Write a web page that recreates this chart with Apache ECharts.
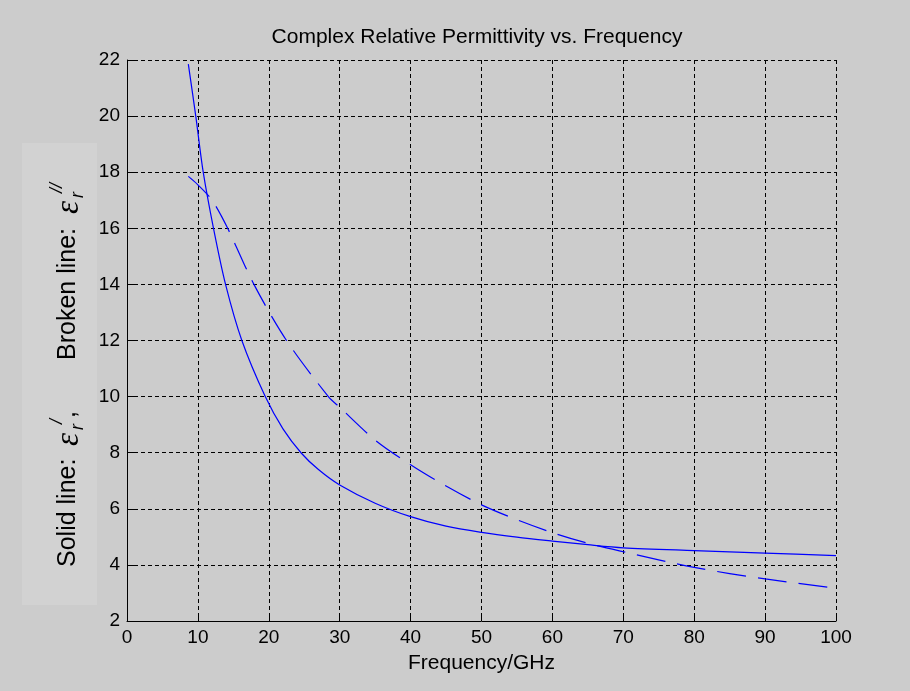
<!DOCTYPE html>
<html>
<head>
<meta charset="utf-8">
<script src="https://cdn.jsdelivr.net/npm/echarts/dist/echarts.min.js"></script>
<style>html,body{margin:0;padding:0;background:#cccccc}#c{width:910px;height:691px}</style>
</head>
<body>
<div id="c"></div>
<script>
// Frequency (GHz) and relative permittivity
const solidFreq = [8.65, 9.7, 10.75, 12.2, 13.9, 16.2, 19.5, 22, 24.6, 27, 30, 35, 40, 45, 50, 55, 60, 65, 70, 80, 90, 100];
const solidEps  = [21.85, 20, 18, 16, 14, 12, 10, 8.85, 7.98, 7.4, 6.85, 6.2, 5.72, 5.38, 5.16, 4.99, 4.85, 4.72, 4.61, 4.51, 4.42, 4.33];
const brokenFreq = [8.65, 10, 12, 14.2, 17.9, 22.5, 28.4, 30, 35, 40, 45, 50, 55, 60, 65, 70, 80, 90, 100];
const brokenEps  = [17.85, 17.55, 17.0, 16.0, 14, 12, 10, 9.62, 8.45, 7.57, 6.81, 6.14, 5.61, 5.15, 4.77, 4.47, 3.91, 3.5, 3.17];
const xTicks = [0, 10, 20, 30, 40, 50, 60, 70, 80, 90, 100];
const yTicks = [2, 4, 6, 8, 10, 12, 14, 16, 18, 20, 22];

const solidData = solidFreq.map((f, i) => [f, solidEps[i]]);
const brokenData = brokenFreq.map((f, i) => [f, brokenEps[i]]);

const FONT = 'Liberation Sans, Arial, sans-serif';
const chart = echarts.init(document.getElementById('c'), null, {renderer: 'canvas'});

const lab = 25, sub = 18;
function t(x, y, text, opts) {
  return {
    type: 'text', x: x, y: y,
    style: Object.assign({text: text, fill: '#000', font: lab + 'px ' + FONT, verticalAlign: 'middle', align: 'left'}, opts || {})
  };
}
const epsFont = 'italic 33px Liberation Serif, serif';
const subFont = 'italic ' + sub + 'px Liberation Sans, sans-serif';

const option = {
  backgroundColor: '#cccccc',
  animation: false,
  grid: {left: 127, top: 60, width: 709, height: 561, containLabel: false},
  xAxis: {
    type: 'value', min: 0, max: 100, interval: 10,
    name: 'Frequency/GHz', nameLocation: 'middle', nameGap: 32,
    nameTextStyle: {color: '#000', fontSize: 21, fontFamily: FONT},
    axisLine: {show: true, onZero: false, lineStyle: {color: '#000', width: 1}},
    axisTick: {show: true, inside: true, length: 7, lineStyle: {color: '#000'}},
    axisLabel: {color: '#000', fontSize: 19, fontFamily: FONT, margin: 7,
      formatter: v => xTicks.includes(v) ? String(v) : ''},
    splitLine: {show: true, lineStyle: {color: '#000', width: 1, type: [4, 3]}}
  },
  yAxis: {
    type: 'value', min: 2, max: 22, interval: 2,
    axisLine: {show: true, onZero: false, lineStyle: {color: '#000', width: 1}},
    axisTick: {show: true, inside: true, length: 7, lineStyle: {color: '#000'}},
    axisLabel: {color: '#000', fontSize: 19, fontFamily: FONT, margin: 7,
      formatter: v => yTicks.includes(v) ? String(v) : ''},
    splitLine: {show: true, lineStyle: {color: '#000', width: 1, type: [4, 3]}}
  },
  series: [
    {type: 'line', data: solidData, smooth: 0.3, showSymbol: false,
      lineStyle: {color: '#0000ff', width: 1.2, type: 'solid'}, z: 3},
    {type: 'line', data: brokenData, smooth: 0.3, showSymbol: false,
      lineStyle: {color: '#0000ff', width: 1.2, type: [29, 12]}, z: 3}
  ],
  graphic: [
    {type: 'text', x: 477, y: 37, style: {text: 'Complex Relative Permittivity vs. Frequency', fill: '#000', font: '21px ' + FONT, align: 'center', verticalAlign: 'middle'}},
    {type: 'rect', shape: {x: 22, y: 143, width: 75, height: 462}, style: {fill: '#d2d2d2'}, z: -1, silent: true},
    {type: 'group', x: 76, y: 567, rotation: Math.PI / 2, children: [
      t(0, -8, 'Solid line:'),
      t(121, -7, 'ε', {font: epsFont}),
      t(137, 2, 'r', {font: subFont}),
      t(143, -19, '/', {font: subFont}),
      t(149, -8, ','),
      t(207, -8, 'Broken line:'),
      t(353, -7, 'ε', {font: epsFont}),
      t(369, 2, 'r', {font: subFont}),
      t(374, -19, '//', {font: subFont})
    ]}
  ]
};
chart.setOption(option);
</script>
</body>
</html>
